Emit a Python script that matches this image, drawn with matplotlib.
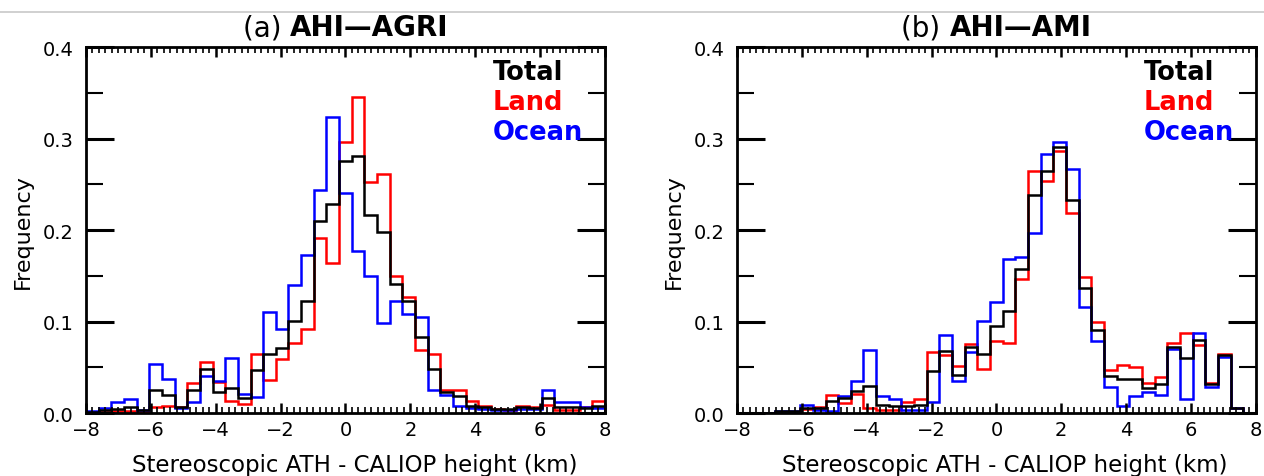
import numpy as np
import matplotlib
matplotlib.use("Agg")
import matplotlib.pyplot as plt
from matplotlib.ticker import MultipleLocator
from matplotlib.lines import Line2D

# 41 bins from -8 to 8 km, centred on 0
edges = np.linspace(-8, 8, 42)

# (a) AHI-AGRI
agri_total = [0.001, 0.003, 0.004, 0.007, 0.003, 0.025, 0.020, 0.007, 0.025, 0.048,
              0.023, 0.027, 0.016, 0.047, 0.064, 0.071, 0.101, 0.123, 0.210, 0.229,
              0.276, 0.281, 0.216, 0.198, 0.141, 0.123, 0.083, 0.048, 0.023, 0.019,
              0.008, 0.007, 0.004, 0.004, 0.007, 0.005, 0.016, 0.007, 0.007, 0.005,
              0.008]
agri_land = [0.001, 0.001, 0.002, 0.002, 0.001, 0.007, 0.008, 0.007, 0.033, 0.056,
             0.034, 0.013, 0.010, 0.064, 0.036, 0.059, 0.077, 0.092, 0.191, 0.164,
             0.296, 0.345, 0.253, 0.261, 0.150, 0.127, 0.069, 0.065, 0.025, 0.025,
             0.013, 0.008, 0.004, 0.003, 0.008, 0.007, 0.009, 0.003, 0.003, 0.007,
             0.013]
agri_ocean = [0.002, 0.005, 0.012, 0.015, 0.003, 0.054, 0.037, 0.005, 0.012, 0.040,
              0.035, 0.060, 0.021, 0.017, 0.111, 0.092, 0.140, 0.173, 0.244, 0.324,
              0.241, 0.177, 0.150, 0.098, 0.122, 0.108, 0.105, 0.025, 0.020, 0.008,
              0.005, 0.004, 0.003, 0.003, 0.004, 0.004, 0.025, 0.012, 0.012, 0.007,
              0.005]

# (b) AHI-AMI
ami_total = [0.0, 0.0, 0.0, 0.002, 0.002, 0.005, 0.005, 0.013, 0.016, 0.024,
             0.030, 0.009, 0.008, 0.008, 0.009, 0.046, 0.068, 0.042, 0.072, 0.065,
             0.095, 0.112, 0.158, 0.238, 0.265, 0.291, 0.233, 0.137, 0.091, 0.040,
             0.037, 0.037, 0.027, 0.032, 0.072, 0.060, 0.080, 0.032, 0.063, 0.005,
             0.0]
ami_land = [0.0, 0.0, 0.0, 0.001, 0.001, 0.004, 0.007, 0.020, 0.011, 0.021,
            0.005, 0.003, 0.003, 0.012, 0.015, 0.067, 0.063, 0.051, 0.076, 0.048,
            0.079, 0.077, 0.147, 0.265, 0.254, 0.286, 0.219, 0.149, 0.099, 0.047,
            0.053, 0.050, 0.033, 0.039, 0.077, 0.087, 0.074, 0.033, 0.065, 0.006,
            0.0]
ami_ocean = [0.0, 0.0, 0.0, 0.002, 0.002, 0.009, 0.003, 0.002, 0.019, 0.035,
             0.069, 0.019, 0.015, 0.003, 0.003, 0.012, 0.085, 0.035, 0.067, 0.101,
             0.121, 0.168, 0.171, 0.197, 0.283, 0.296, 0.267, 0.116, 0.079, 0.029,
             0.008, 0.019, 0.023, 0.020, 0.070, 0.015, 0.088, 0.028, 0.061, 0.005,
             0.0]

panels = [
    ("(a) ", "AHI—AGRI", agri_total, agri_land, agri_ocean),
    ("(b) ", "AHI—AMI", ami_total, ami_land, ami_ocean),
]

fig = plt.figure(figsize=(12.64, 4.77), dpi=100)
fig.add_artist(Line2D([0, 1], [0.973, 0.973], color='#c8c8c8', lw=1.2))
renderer = fig.canvas.get_renderer()

lefts = [0.068, 0.583]
for left, (tag, name, total, land, ocean) in zip(lefts, panels):
    ax = fig.add_axes([left, 0.132, 0.4106, 0.767])
    ax.stairs(land, edges, color='red', lw=1.8)
    ax.stairs(ocean, edges, color='blue', lw=1.8)
    ax.stairs(total, edges, color='black', lw=1.8)

    ax.set_xlim(-8, 8)
    ax.set_ylim(0, 0.4)
    ax.xaxis.set_major_locator(MultipleLocator(2))
    ax.xaxis.set_minor_locator(MultipleLocator(0.2))
    ax.yaxis.set_major_locator(MultipleLocator(0.1))
    ax.yaxis.set_minor_locator(MultipleLocator(0.05))
    ax.yaxis.set_major_formatter(plt.FormatStrFormatter('%.1f'))
    ax.tick_params(which='both', direction='in', top=True, right=True,
                   labelsize=14, width=1.8, pad=5)
    ax.tick_params(axis='y', which='both', pad=9)
    ax.tick_params(axis='x', which='major', length=7)
    ax.tick_params(axis='x', which='minor', length=4, width=1.2)
    ax.tick_params(axis='y', which='major', length=20, width=2.2)
    ax.tick_params(axis='y', which='minor', length=12, width=1.5)
    for sp in ax.spines.values():
        sp.set_linewidth(2)

    ax.set_xlabel('Stereoscopic ATH - CALIOP height (km)', fontsize=16.5)
    ax.xaxis.set_label_coords(0.517, -0.14)
    ax.xaxis.label.set_va('center')
    ax.set_ylabel('Frequency', fontsize=16, labelpad=7)

    # title: normal tag followed by bold name, centred as a whole
    t1 = ax.text(0, 1.055, tag, fontsize=20, transform=ax.transAxes,
                 ha='left', va='center')
    t2 = ax.text(0, 1.055, name, fontsize=20, fontweight='bold',
                 transform=ax.transAxes, ha='left', va='center')
    w1 = t1.get_window_extent(renderer).width
    w2 = t2.get_window_extent(renderer).width
    axw = ax.get_window_extent(renderer).width
    x0 = 0.5 - (w1 + w2) / 2 / axw
    t1.set_x(x0)
    t2.set_x(x0 + w1 / axw)

    for txt, col, yy in [('Total', 'black', 0.932), ('Land', 'red', 0.85),
                         ('Ocean', 'blue', 0.768)]:
        ax.text(0.784, yy, txt, color=col, fontsize=18.5, fontweight='bold',
                transform=ax.transAxes, ha='left', va='center')

fig.savefig('out.png', dpi=100)
